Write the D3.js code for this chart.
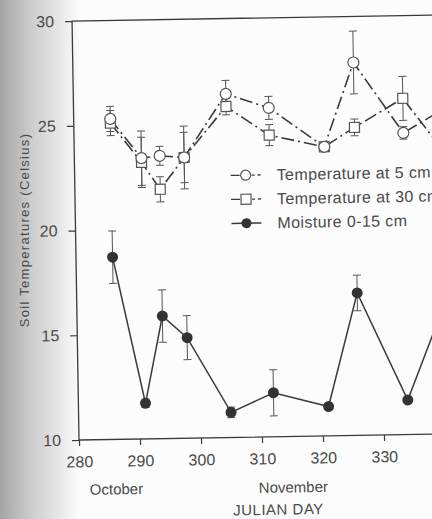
<!DOCTYPE html>
<html>
<head>
<meta charset="utf-8">
<title>Soil temperatures</title>
<script src="https://cdn.jsdelivr.net/npm/d3@7"></script>
<style>
  body { margin: 0; background: #fcfcfc; }
  svg { display: block; }
  text { font-family: "Liberation Sans", Arial, sans-serif; fill: #4a4a4a; }
</style>
</head>
<body>
<script>
// julian days of the samples
var days = [286, 291, 294, 298, 305, 312, 321, 326, 334, 340];

// temperature at 5 cm and its error
var temp5 = [25.3, 23.4, 23.5, 23.4, 26.4, 25.7, 23.8, 27.8, 24.4, 25.4];
var temp5Err = [0.6, 1.3, 0.45, 1.2, 0.65, 0.55, 0.15, 1.5, 0.3, 0.5];

// temperature at 30 cm and its error
var temp30 = [25.1, 23.2, 21.9, 23.4, 25.8, 24.4, 23.8, 24.7, 26.05, 23.7];
var temp30Err = [0.6, 1.2, 0.6, 1.5, 0.4, 0.5, 0.15, 0.4, 1.05, 0.5];

// moisture 0-15 cm and its error
var moist = [18.7, 11.7, 15.85, 14.8, 11.2, 12.1, 11.4, 16.8, 11.65, 16.0];
var moistErr = [1.25, 0.2, 1.25, 1.05, 0.25, 1.1, 0.1, 0.85, 0.1, 0.5];

var xTicks = [280, 290, 300, 310, 320, 330];
var yTicks = [10, 15, 20, 25, 30];
var legendNames = ["Temperature at 5 cm", "Temperature at 30 cm", "Moisture 0-15 cm"];

var W = 432, H = 519;
var ink = "#3a3a3a";

var svg = d3.select("body").append("svg")
  .attr("width", W)
  .attr("height", H);

// shading of the scanned page on the left
var grad = svg.append("defs").append("linearGradient")
  .attr("id", "shade").attr("x1", 0).attr("x2", 1).attr("y1", 0).attr("y2", 0);
grad.append("stop").attr("offset", 0).attr("stop-color", "#a4a4a4");
grad.append("stop").attr("offset", 0.35).attr("stop-color", "#c9c9c9");
grad.append("stop").attr("offset", 0.75).attr("stop-color", "#e8e8e8");
grad.append("stop").attr("offset", 1).attr("stop-color", "#fcfcfc");
svg.append("rect").attr("x", 0).attr("y", 0).attr("width", 80).attr("height", H)
  .attr("fill", "url(#shade)");

var x = d3.scaleLinear().domain([280, 345]).range([79, 79 + 65 * 6.1]);
var y = d3.scaleLinear().domain([10, 30]).range([440, 21]);

// the scan is slightly rotated
var g = svg.append("g").attr("transform", "rotate(-0.95, 79, 440)");

// frame
g.append("path")
  .attr("d", "M" + x(280) + "," + y(10) + "V" + y(30) + "H" + x(345) + "V" + y(10) + "Z")
  .attr("fill", "none").attr("stroke", ink).attr("stroke-width", 1.3);

var yAxis = g.append("g")
  .attr("transform", "translate(" + x(280) + ",0)")
  .call(d3.axisLeft(y).tickValues(yTicks).tickSize(7).tickSizeOuter(0).tickPadding(11));
var xAxis = g.append("g")
  .attr("transform", "translate(0," + y(10) + ")")
  .call(d3.axisBottom(x).tickValues(xTicks).tickSize(6).tickSizeOuter(0).tickPadding(10));
[yAxis, xAxis].forEach(function(a) {
  a.select(".domain").remove();
  a.selectAll("line").attr("stroke", ink).attr("stroke-width", 1.2);
  a.selectAll("text").attr("font-size", 16).attr("fill", "#4a4a4a")
    .attr("font-family", "Liberation Sans, Arial, sans-serif");
});

g.append("text").attr("x", x(286)).attr("y", 495).attr("text-anchor", "middle")
  .attr("font-size", 15).text("October");
g.append("text").attr("x", x(315)).attr("y", 496).attr("text-anchor", "middle")
  .attr("font-size", 15).text("November");
g.append("text").attr("x", x(312.5)).attr("y", 518).attr("text-anchor", "middle")
  .attr("font-size", 15).attr("letter-spacing", 0.5).text("JULIAN DAY");

svg.append("text")
  .attr("transform", "translate(29,230) rotate(-90)")
  .attr("text-anchor", "middle").attr("font-size", 13).attr("letter-spacing", 1.3)
  .text("Soil Temperatures (Celsius)");

function rows(vals, errs) {
  return days.map(function(d, i) { return { day: d, v: vals[i], e: errs[i] }; });
}

var line = d3.line().x(function(d) { return x(d.day); }).y(function(d) { return y(d.v); });

function errorBars(data) {
  var eb = g.append("g").attr("stroke", "#555").attr("stroke-width", 1);
  eb.selectAll(".v").data(data).enter().append("line")
    .attr("x1", function(d) { return x(d.day); }).attr("x2", function(d) { return x(d.day); })
    .attr("y1", function(d) { return y(d.v + d.e); }).attr("y2", function(d) { return y(d.v - d.e); });
  eb.selectAll(".t").data(data).enter().append("line")
    .attr("x1", function(d) { return x(d.day) - 4; }).attr("x2", function(d) { return x(d.day) + 4; })
    .attr("y1", function(d) { return y(d.v + d.e); }).attr("y2", function(d) { return y(d.v + d.e); });
  eb.selectAll(".b").data(data).enter().append("line")
    .attr("x1", function(d) { return x(d.day) - 4; }).attr("x2", function(d) { return x(d.day) + 4; })
    .attr("y1", function(d) { return y(d.v - d.e); }).attr("y2", function(d) { return y(d.v - d.e); });
}

var s5 = rows(temp5, temp5Err);
var s30 = rows(temp30, temp30Err);
var sm = rows(moist, moistErr);

errorBars(s5);
errorBars(s30);
errorBars(sm);

var dashes = "13,4,2,4";
g.append("path").datum(s30).attr("d", line).attr("fill", "none")
  .attr("stroke", ink).attr("stroke-width", 1.6).attr("stroke-dasharray", dashes);
g.append("path").datum(s5).attr("d", line).attr("fill", "none")
  .attr("stroke", ink).attr("stroke-width", 1.6).attr("stroke-dasharray", dashes);
g.append("path").datum(sm).attr("d", line).attr("fill", "none")
  .attr("stroke", ink).attr("stroke-width", 1.5);

g.selectAll(".sq").data(s30).enter().append("rect")
  .attr("x", function(d) { return x(d.day) - 5; }).attr("y", function(d) { return y(d.v) - 5; })
  .attr("width", 10).attr("height", 10)
  .attr("fill", "#fff").attr("stroke", "#555").attr("stroke-width", 1.2);
g.selectAll(".ci").data(s5).enter().append("circle")
  .attr("cx", function(d) { return x(d.day); }).attr("cy", function(d) { return y(d.v); })
  .attr("r", 5.5)
  .attr("fill", "#fff").attr("stroke", "#555").attr("stroke-width", 1.2);
g.selectAll(".mo").data(sm).enter().append("circle")
  .attr("cx", function(d) { return x(d.day); }).attr("cy", function(d) { return y(d.v); })
  .attr("r", 5.5).attr("fill", "#333");

// legend
var leg = g.append("g").attr("transform", "translate(235,0)");
var legY = [178, 202, 226];
legendNames.forEach(function(name, i) {
  var r = leg.append("g").attr("transform", "translate(0," + legY[i] + ")");
  if (i < 2) {
    r.append("line").attr("x1", 0).attr("x2", 9).attr("stroke", ink).attr("stroke-width", 1.3);
    r.append("line").attr("x1", 21).attr("x2", 32).attr("stroke", ink)
      .attr("stroke-width", 1.3).attr("stroke-dasharray", "3,3");
    if (i === 0) {
      r.append("circle").attr("cx", 15).attr("r", 5).attr("fill", "#fff")
        .attr("stroke", "#555").attr("stroke-width", 1.2);
    } else {
      r.append("rect").attr("x", 10).attr("y", -5).attr("width", 10).attr("height", 10)
        .attr("fill", "#fff").attr("stroke", "#555").attr("stroke-width", 1.2);
    }
  } else {
    r.append("line").attr("x1", 0).attr("x2", 30).attr("stroke", ink).attr("stroke-width", 1.5);
    r.append("circle").attr("cx", 15).attr("r", 5).attr("fill", "#333");
  }
  r.append("text").attr("x", 46).attr("y", 5.5).attr("font-size", 16)
    .attr("letter-spacing", 0.4).text(name);
});
</script>
</body>
</html>
